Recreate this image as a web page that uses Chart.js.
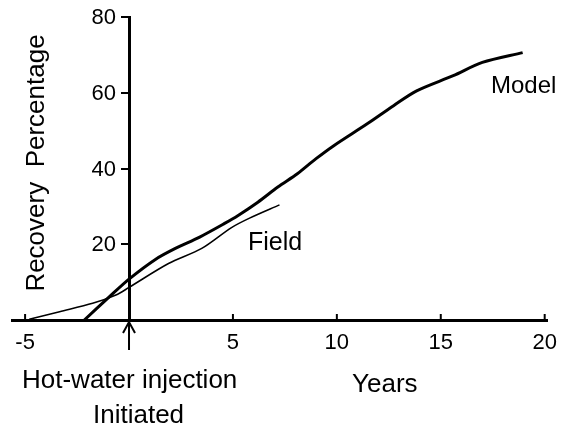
<!DOCTYPE html>
<html>
<head>
<meta charset="utf-8">
<script src="https://cdn.jsdelivr.net/npm/chart.js@4/dist/chart.umd.min.js"></script>
<style>
  html, body { margin: 0; padding: 0; background: #fff; }
  #wrap { width: 567px; height: 431px; }
</style>
</head>
<body>
<div id="wrap"><canvas id="c" width="567" height="431"></canvas></div>
<script>
// ---- data ----
const xTicks = [-5, 0, 5, 10, 15, 20];
const yTicks = [0, 20, 40, 60, 80];

const modelYears  = [-2.15, -0.95, 0, 1.27, 2.23, 3.4, 4.6, 5.25, 6.2, 7.16, 8.1, 9.0, 9.87, 11.46, 12.73, 13.84, 15.6, 17.0, 18.94];
const modelValues = [0, 6.1, 10.8, 16.0, 18.9, 21.9, 25.5, 27.6, 31.1, 35.1, 38.6, 42.6, 46.1, 51.8, 56.6, 60.5, 64.5, 68.0, 70.6];

const fieldYears  = [-4.8, -3.34, -1.75, -0.63, 0, 1.9, 3.5, 4.93, 5.8, 7.24];
const fieldValues = [0.2, 2.2, 4.4, 6.6, 8.6, 14.9, 18.9, 24.4, 26.9, 30.4];

const FONT = '"Liberation Sans", Arial, Helvetica, sans-serif';

const toPoints = (xs, ys) => xs.map((v, i) => ({ x: v, y: ys[i] }));

const overlay = {
  id: 'overlay',
  afterDraw(chart) {
    const { ctx, scales: { x, y } } = chart;
    const y0 = y.getPixelForValue(0);
    const x0 = x.getPixelForValue(0);
    ctx.save();
    ctx.strokeStyle = '#000';
    ctx.fillStyle = '#000';
    // upward x tick marks
    ctx.lineWidth = 2;
    xTicks.forEach(v => {
      if (v === 0) return;
      const px = x.getPixelForValue(v);
      ctx.beginPath();
      ctx.moveTo(px, y0);
      ctx.lineTo(px, y0 - 6);
      ctx.stroke();
    });
    // y tick labels (left of the axis)
    ctx.font = '22px ' + FONT;
    ctx.textAlign = 'right';
    ctx.textBaseline = 'middle';
    yTicks.forEach(v => {
      if (v === 0) return;
      ctx.fillText(String(v), x0 - 13, y.getPixelForValue(v) + 1);
    });
    // arrow at injection start
    ctx.lineWidth = 2;
    ctx.beginPath();
    ctx.moveTo(x0, y0 + 30);
    ctx.lineTo(x0, y0 + 2);
    ctx.moveTo(x0 - 6, y0 + 13);
    ctx.lineTo(x0, y0 + 2);
    ctx.lineTo(x0 + 6, y0 + 13);
    ctx.stroke();
    // texts
    ctx.textBaseline = 'alphabetic';
    ctx.textAlign = 'left';
    ctx.font = '24px ' + FONT;
    ctx.fillText('Model', 491, 93);
    ctx.font = '25px ' + FONT;
    ctx.fillText('Field', 248, 250);
    ctx.font = '26px ' + FONT;
    ctx.fillText('Years', 352, 392);
    ctx.fillText('Hot-water injection', 22, 388);
    ctx.fillText('Initiated', 93, 423);
    // y axis title
    ctx.save();
    ctx.translate(44, 163);
    ctx.rotate(-Math.PI / 2);
    ctx.textAlign = 'center';
    ctx.fillText('Recovery  Percentage', 0, 0);
    ctx.restore();
    ctx.restore();
  }
};

new Chart(document.getElementById('c'), {
  type: 'scatter',
  data: {
    datasets: [
      {
        label: 'Model',
        data: toPoints(modelYears, modelValues),
        showLine: true,
        borderColor: '#000',
        borderWidth: 3,
        pointRadius: 0,
        tension: 0.3,
        fill: false
      },
      {
        label: 'Field',
        data: toPoints(fieldYears, fieldValues),
        showLine: true,
        borderColor: '#000',
        borderWidth: 1.6,
        pointRadius: 0,
        tension: 0.3,
        fill: false
      }
    ]
  },
  options: {
    responsive: false,
    animation: false,
    events: [],
    layout: { padding: { left: 12, right: 15, top: 17, bottom: 111 } },
    plugins: { legend: { display: false }, tooltip: { enabled: false } },
    scales: {
      x: {
        type: 'linear',
        position: { y: 0 },
        min: -5.63,
        max: 20.14,
        afterBuildTicks: s => { s.ticks = xTicks.map(v => ({ value: v })); },
        grid: { display: true, drawOnChartArea: false, drawTicks: false },
        border: { display: true, color: '#000', width: 3 },
        ticks: {
          color: '#000',
          font: { family: FONT, size: 22 },
          padding: 10,
          maxRotation: 0,
          autoSkip: false,
          callback: v => (v === 0 ? '' : String(v))
        }
      },
      y: {
        type: 'linear',
        position: { x: 0 },
        min: 0,
        max: 80,
        afterBuildTicks: s => { s.ticks = yTicks.map(v => ({ value: v })); },
        grid: { display: true, drawOnChartArea: false, drawTicks: true, tickLength: 7, color: '#000', lineWidth: 2 },
        border: { display: true, color: '#000', width: 3 },
        ticks: { display: false }
      }
    }
  },
  plugins: [overlay]
});
</script>
</body>
</html>
